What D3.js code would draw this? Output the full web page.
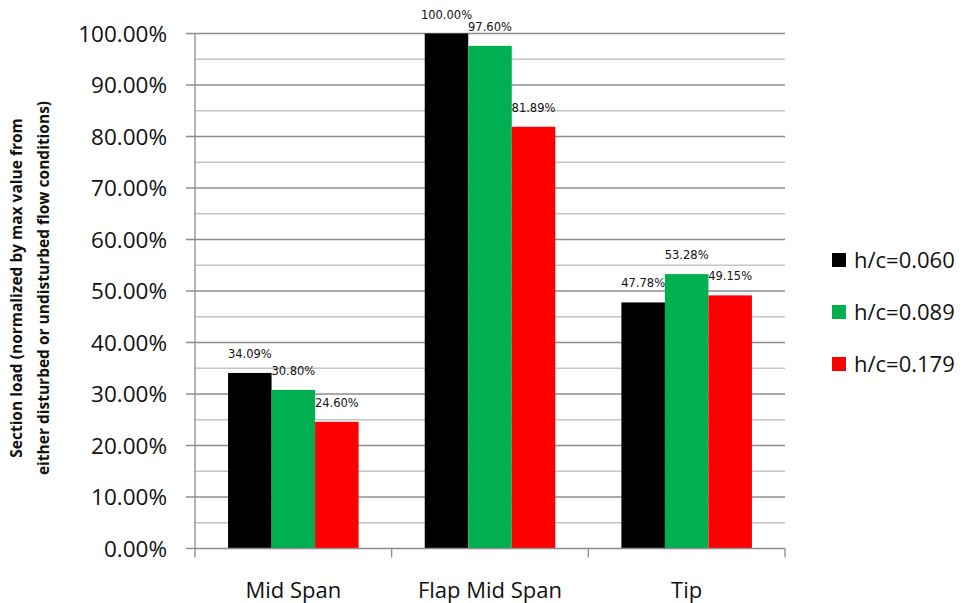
<!DOCTYPE html>
<html>
<head>
<meta charset="utf-8">
<script src="https://cdn.jsdelivr.net/npm/d3@7"></script>
<style>
  body { margin: 0; background: #fff; }
  text { font-family: "Open Sans", "DejaVu Sans", sans-serif; }
</style>
</head>
<body>
<div id="chart"></div>
<script>
// chart data
const categories = ["Mid Span", "Flap Mid Span", "Tip"];
const seriesNames = ["h/c=0.060", "h/c=0.089", "h/c=0.179"];
const seriesColors = ["#000000", "#00b050", "#ff0000"];
const hc060 = [34.09, 100.00, 47.78];
const hc089 = [30.80, 97.60, 53.28];
const hc179 = [24.60, 81.89, 49.15];
const yTicks = [0, 10, 20, 30, 40, 50, 60, 70, 80, 90, 100];
const yMinor = [5, 15, 25, 35, 45, 55, 65, 75, 85, 95];
const yTitle = ["Section load (normalized by max value from", "either disturbed or undisturbed flow conditions)"];

const seriesValues = [hc060, hc089, hc179];

const W = 979, H = 603;
const plotLeft = 195, plotRight = 785, plotTop = 33.5, plotBottom = 548.5;

const svg = d3.select("#chart").append("svg")
    .attr("width", W)
    .attr("height", H);

const x = d3.scaleBand()
    .domain(categories)
    .range([plotLeft, plotRight])
    .paddingInner(0)
    .paddingOuter(0);

const xs = d3.scaleBand()
    .domain(seriesNames)
    .range([0, x.bandwidth()])
    .paddingOuter(0.76)
    .paddingInner(0);

const y = d3.scaleLinear()
    .domain([0, 100])
    .range([plotBottom, plotTop]);

// minor gridlines
svg.append("g")
    .selectAll("line")
    .data(yMinor)
    .join("line")
    .attr("x1", plotLeft).attr("x2", plotRight)
    .attr("y1", d => y(d)).attr("y2", d => y(d))
    .attr("stroke", "#c4c4c4")
    .attr("stroke-width", 1.3);

// major gridlines + tick marks
svg.append("g")
    .selectAll("line")
    .data(yTicks.slice(1))
    .join("line")
    .attr("x1", plotLeft - 9).attr("x2", plotRight)
    .attr("y1", d => y(d)).attr("y2", d => y(d))
    .attr("stroke", "#8c8c8c")
    .attr("stroke-width", 1.3);

// y axis tick labels
svg.append("g")
    .selectAll("text")
    .data(yTicks)
    .join("text")
    .attr("x", 167)
    .attr("y", d => y(d))
    .attr("dy", "0.36em")
    .attr("text-anchor", "end")
    .style("font-size", "22.5px")
    .style("fill", "#111")
    .text(d => d3.format(".2f")(d) + "%");

// bars
const groups = svg.append("g")
    .selectAll("g")
    .data(categories)
    .join("g")
    .attr("transform", d => `translate(${x(d)},0)`);

groups.selectAll("rect")
    .data((c, i) => seriesNames.map((s, j) => ({ s, v: seriesValues[j][i], color: seriesColors[j] })))
    .join("rect")
    .attr("x", d => xs(d.s))
    .attr("width", xs.bandwidth())
    .attr("y", d => y(d.v))
    .attr("height", d => y(0) - y(d.v))
    .attr("fill", d => d.color);

// data labels
groups.selectAll("text")
    .data((c, i) => seriesNames.map((s, j) => ({ s, v: seriesValues[j][i] })))
    .join("text")
    .attr("x", d => xs(d.s) + xs.bandwidth() / 2)
    .attr("y", d => y(d.v) - 15)
    .attr("text-anchor", "middle")
    .style("font-family", "'DejaVu Sans', sans-serif")
    .style("font-size", "11.5px")
    .style("fill", "#111")
    .text(d => d3.format(".2f")(d.v) + "%");

// x axis line + category ticks
svg.append("line")
    .attr("x1", plotLeft).attr("x2", plotRight)
    .attr("y1", plotBottom).attr("y2", plotBottom)
    .attr("stroke", "#8c8c8c")
    .attr("stroke-width", 1.3);

svg.append("line")
    .attr("x1", plotLeft - 9).attr("x2", plotLeft)
    .attr("y1", plotBottom).attr("y2", plotBottom)
    .attr("stroke", "#8c8c8c")
    .attr("stroke-width", 1.3);

svg.append("line")
    .attr("x1", plotLeft).attr("x2", plotLeft)
    .attr("y1", plotTop).attr("y2", plotBottom + 9)
    .attr("stroke", "#8c8c8c")
    .attr("stroke-width", 1.3);

svg.append("g")
    .selectAll("line")
    .data(categories)
    .join("line")
    .attr("x1", d => x(d) + x.bandwidth()).attr("x2", d => x(d) + x.bandwidth())
    .attr("y1", plotBottom).attr("y2", plotBottom + 9)
    .attr("stroke", "#8c8c8c")
    .attr("stroke-width", 1.3);

svg.append("g")
    .selectAll("text")
    .data(categories)
    .join("text")
    .attr("x", d => x(d) + x.bandwidth() / 2)
    .attr("y", 590)
    .attr("dy", "0.36em")
    .attr("text-anchor", "middle")
    .style("font-size", "22px")
    .style("fill", "#111")
    .text(d => d);

// y axis title
svg.append("text")
    .attr("transform", "translate(22,288) rotate(-90)")
    .attr("text-anchor", "middle")
    .style("font-size", "15.5px")
    .style("font-weight", "bold")
    .style("fill", "#111")
    .selectAll("tspan")
    .data(yTitle)
    .join("tspan")
    .attr("x", 0)
    .attr("dy", (d, i) => i === 0 ? 0 : 27)
    .text(d => d);

// legend
const legend = svg.append("g")
    .selectAll("g")
    .data(seriesNames)
    .join("g")
    .attr("transform", (d, i) => `translate(832,${260 + i * 52})`);

legend.append("rect")
    .attr("x", 0).attr("y", -7)
    .attr("width", 14).attr("height", 14)
    .attr("fill", (d, i) => seriesColors[i]);

legend.append("text")
    .attr("x", 22)
    .attr("dy", "0.36em")
    .style("font-size", "22px")
    .style("fill", "#111")
    .text(d => d);
</script>
</body>
</html>
